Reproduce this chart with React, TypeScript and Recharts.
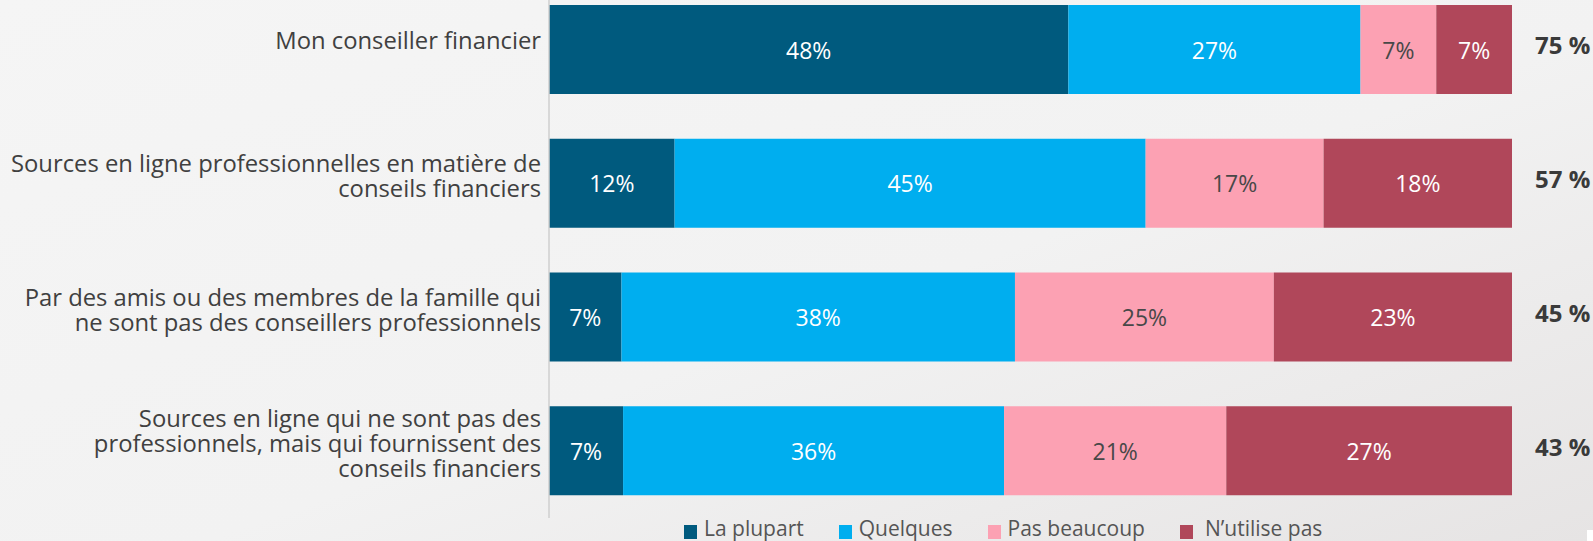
import { BarChart, Bar, XAxis, YAxis, LabelList } from 'recharts'

const categories = [
  'Mon conseiller financier',
  'Sources en ligne professionnelles en matière de\nconseils financiers',
  'Par des amis ou des membres de la famille qui\nne sont pas des conseillers professionnels',
  'Sources en ligne qui ne sont pas des\nprofessionnels, mais qui fournissent des\nconseils financiers',
]
const laPlupart = [48, 12, 7, 7]
const quelques = [27, 45, 38, 36]
const pasBeaucoup = [7, 17, 25, 21]
const nUtilisePas = [7, 18, 23, 27]
const totals = ['75 %', '57 %', '45 %', '43 %']

const series = [
  { key: 'la', name: 'La plupart', color: '#005a7e', text: '#ffffff' },
  { key: 'quelques', name: 'Quelques', color: '#00aeef', text: '#ffffff' },
  { key: 'pas', name: 'Pas beaucoup', color: '#fca1b3', text: '#484848' },
  { key: 'nutil', name: 'N\u2019utilise pas', color: '#b0475a', text: '#ffffff' },
]

const data = categories.map((name, i) => ({
  name,
  total: totals[i],
  la: laPlupart[i],
  quelques: quelques[i],
  pas: pasBeaucoup[i],
  nutil: nUtilisePas[i],
}))

const FONT = "'Open Sans', sans-serif"

const CategoryTick = ({ x, y, payload }: any) => {
  const lines = String(payload.value).split('\n')
  const n = lines.length
  const shift = n === 1 ? -1 : 1
  return (
    <text x={x} y={y} textAnchor="end" fill="#404040" fontSize={23.8} fontFamily={FONT}>
      {lines.map((l, i) => (
        <tspan key={i} x={x} y={y + shift + (i - (n - 1) / 2) * 25}>
          {l}
        </tspan>
      ))}
    </text>
  )
}

const TotalTick = ({ x, y, payload }: any) => (
  <text x={x} y={y + 4.5} textAnchor="start" fill="#3a3a3a" fontSize={24} fontWeight={700} fontFamily={FONT}>
    {payload.value}
  </text>
)

export default function App() {
  return (
    <div
      style={{
        position: 'absolute',
        left: 0,
        top: 0,
        width: 1593,
        height: 541,
        overflow: 'hidden',
        background: 'linear-gradient(160deg, #f5f5f5 0%, #f2f2f2 55%, #e6e4e4 100%)',
        fontFamily: FONT,
      }}
    >
      <BarChart
        width={1593}
        height={541}
        data={data}
        layout="vertical"
        stackOffset="expand"
        margin={{ top: -17, right: 0, bottom: 23, left: 0 }}
      >
        <XAxis type="number" domain={[0, 1]} hide />
        <YAxis
          yAxisId="left"
          type="category"
          dataKey="name"
          width={549}
          axisLine={{ stroke: '#cfcfcf', strokeWidth: 1.5 }}
          tickLine={false}
          tickSize={0}
          tickMargin={8}
          tick={<CategoryTick />}
          interval={0}
        />
        <YAxis
          yAxisId="right"
          orientation="right"
          type="category"
          dataKey="total"
          width={81}
          axisLine={false}
          tickLine={false}
          tickSize={0}
          tickMargin={23}
          tick={<TotalTick />}
          interval={0}
        />
        {series.map((s) => (
          <Bar
            key={s.key}
            yAxisId="left"
            dataKey={s.key}
            name={s.name}
            stackId="a"
            fill={s.color}
            barSize={89}
            isAnimationActive={false}
          >
            <LabelList
              dataKey={s.key}
              position="center"
              formatter={(v: any) => `${v}%`}
              fill={s.text}
              fontSize={23}
              fontFamily={FONT}
              dy={1}
            />
          </Bar>
        ))}
      </BarChart>
      <div
        style={{
          position: 'absolute',
          left: 684,
          top: 516,
          display: 'flex',
          alignItems: 'center',
          height: 24,
          fontSize: 21,
          lineHeight: '24px',
          color: '#555555',
        }}
      >
        {series.map((s, i) => (
          <div key={s.key} style={{ display: 'flex', alignItems: 'center', marginRight: 35 }}>
            <span style={{ display: 'inline-block', width: 13, height: 14, background: s.color, marginTop: 7 }} />
            <span style={{ marginLeft: i === 3 ? 12 : 7 }}>{s.name}</span>
          </div>
        ))}
      </div>
      <div style={{ position: 'absolute', left: 1587, top: 530, width: 6, height: 11, background: '#ffffff' }} />
    </div>
  )
}
